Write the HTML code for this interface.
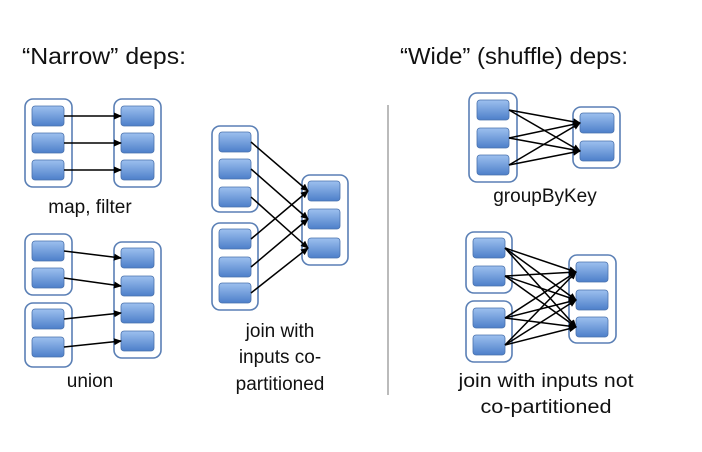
<!DOCTYPE html>
<html><head><meta charset="utf-8"><style>
html,body{margin:0;padding:0;background:#fff;}
svg{display:block;}
text{font-family:"Liberation Sans",sans-serif;fill:#111;}
</style></head><body>
<svg width="702" height="452" viewBox="0 0 702 452" xmlns="http://www.w3.org/2000/svg">
<defs>
<linearGradient id="g" x1="0" y1="0" x2="0" y2="1">
<stop offset="0" stop-color="#9dc0ef"/><stop offset="1" stop-color="#4d7fc9"/>
</linearGradient>
<marker id="a" markerWidth="8" markerHeight="8" refX="7" refY="4" orient="auto" markerUnits="userSpaceOnUse">
<path d="M0,0.5 L8,4 L0,7.5 z" fill="#000"/>
</marker>
<style>
.c{fill:#fff;stroke:#5a7fb5;stroke-width:1.6}
.p{fill:url(#g);stroke:#4a72ad;stroke-width:0.8}
.l{stroke:#000;stroke-width:1.5;marker-end:url(#a)}
</style>
</defs>

<text x="22" y="64" font-size="23" textLength="164" lengthAdjust="spacingAndGlyphs">“Narrow” deps:</text>
<text x="400" y="64" font-size="23" textLength="228" lengthAdjust="spacingAndGlyphs">“Wide” (shuffle) deps:</text>
<line x1="388" y1="105" x2="388" y2="395" stroke="#bbb" stroke-width="2"/>

<!-- map filter -->
<rect class="c" x="25" y="99" width="47" height="88" rx="8"/>
<rect class="c" x="114" y="99" width="47" height="88" rx="8"/>
<rect class="p" x="32" y="106" width="32" height="20" rx="3"/>
<rect class="p" x="32" y="133" width="32" height="20" rx="3"/>
<rect class="p" x="32" y="160" width="32" height="20" rx="3"/>
<rect class="p" x="121" y="106" width="33" height="20" rx="3"/>
<rect class="p" x="121" y="133" width="33" height="20" rx="3"/>
<rect class="p" x="121" y="160" width="33" height="20" rx="3"/>
<line class="l" x1="64" y1="116" x2="121" y2="116"/>
<line class="l" x1="64" y1="143" x2="121" y2="143"/>
<line class="l" x1="64" y1="170" x2="121" y2="170"/>
<text x="90" y="213" font-size="19" text-anchor="middle">map, filter</text>

<!-- union -->
<rect class="c" x="25" y="234" width="47" height="61" rx="8"/>
<rect class="c" x="25" y="303" width="47" height="64" rx="8"/>
<rect class="c" x="114" y="242" width="47" height="116" rx="8"/>
<rect class="p" x="32" y="241" width="32" height="20" rx="3"/>
<rect class="p" x="32" y="268" width="32" height="20" rx="3"/>
<rect class="p" x="32" y="309" width="32" height="20" rx="3"/>
<rect class="p" x="32" y="337" width="32" height="20" rx="3"/>
<rect class="p" x="121" y="248" width="33" height="20" rx="3"/>
<rect class="p" x="121" y="276" width="33" height="20" rx="3"/>
<rect class="p" x="121" y="303" width="33" height="20" rx="3"/>
<rect class="p" x="121" y="331" width="33" height="20" rx="3"/>
<line class="l" x1="64" y1="251" x2="121" y2="258"/>
<line class="l" x1="64" y1="278" x2="121" y2="286"/>
<line class="l" x1="64" y1="319" x2="121" y2="313"/>
<line class="l" x1="64" y1="347" x2="121" y2="341"/>
<text x="90" y="387" font-size="19" text-anchor="middle">union</text>

<!-- join co-partitioned -->
<rect class="c" x="212" y="126" width="46" height="86" rx="8"/>
<rect class="c" x="212" y="223" width="46" height="87" rx="8"/>
<rect class="c" x="302" y="175" width="46" height="90" rx="8"/>
<rect class="p" x="219" y="132" width="32" height="20" rx="3"/>
<rect class="p" x="219" y="159" width="32" height="20" rx="3"/>
<rect class="p" x="219" y="187" width="32" height="20" rx="3"/>
<rect class="p" x="219" y="229" width="32" height="20" rx="3"/>
<rect class="p" x="219" y="257" width="32" height="20" rx="3"/>
<rect class="p" x="219" y="283" width="32" height="20" rx="3"/>
<rect class="p" x="308" y="181" width="32" height="20" rx="3"/>
<rect class="p" x="308" y="209" width="32" height="20" rx="3"/>
<rect class="p" x="308" y="238" width="32" height="20" rx="3"/>
<line class="l" x1="251" y1="142" x2="308" y2="191"/>
<line class="l" x1="251" y1="169" x2="308" y2="219"/>
<line class="l" x1="251" y1="197" x2="308" y2="248"/>
<line class="l" x1="251" y1="239" x2="308" y2="191"/>
<line class="l" x1="251" y1="267" x2="308" y2="219"/>
<line class="l" x1="251" y1="293" x2="308" y2="248"/>
<text x="280" y="337" font-size="19" text-anchor="middle">join with</text>
<text x="280" y="363" font-size="19" text-anchor="middle">inputs co-</text>
<text x="280" y="390" font-size="19" text-anchor="middle">partitioned</text>

<!-- groupByKey -->
<rect class="c" x="469" y="93" width="48" height="89" rx="8"/>
<rect class="c" x="573" y="107" width="47" height="61" rx="8"/>
<rect class="p" x="477" y="100" width="32" height="20" rx="3"/>
<rect class="p" x="477" y="128" width="32" height="20" rx="3"/>
<rect class="p" x="477" y="155" width="32" height="20" rx="3"/>
<rect class="p" x="580" y="113" width="34" height="20" rx="3"/>
<rect class="p" x="580" y="141" width="34" height="20" rx="3"/>
<line class="l" x1="509" y1="110" x2="580" y2="123"/><line class="l" x1="509" y1="110" x2="580" y2="151"/>
<line class="l" x1="509" y1="138" x2="580" y2="123"/><line class="l" x1="509" y1="138" x2="580" y2="151"/>
<line class="l" x1="509" y1="165" x2="580" y2="123"/><line class="l" x1="509" y1="165" x2="580" y2="151"/>
<text x="545" y="202" font-size="19" text-anchor="middle">groupByKey</text>

<!-- join not co-partitioned -->
<rect class="c" x="466" y="232" width="46" height="61" rx="8"/>
<rect class="c" x="466" y="301" width="46" height="61" rx="8"/>
<rect class="c" x="569" y="255" width="47" height="88" rx="8"/>
<rect class="p" x="473" y="238" width="32" height="20" rx="3"/>
<rect class="p" x="473" y="266" width="32" height="20" rx="3"/>
<rect class="p" x="473" y="308" width="32" height="20" rx="3"/>
<rect class="p" x="473" y="335" width="32" height="20" rx="3"/>
<rect class="p" x="576" y="262" width="32" height="20" rx="3"/>
<rect class="p" x="576" y="290" width="32" height="20" rx="3"/>
<rect class="p" x="576" y="317" width="32" height="20" rx="3"/>
<line class="l" x1="505" y1="248" x2="576" y2="272"/><line class="l" x1="505" y1="248" x2="576" y2="300"/><line class="l" x1="505" y1="248" x2="576" y2="327"/>
<line class="l" x1="505" y1="276" x2="576" y2="272"/><line class="l" x1="505" y1="276" x2="576" y2="300"/><line class="l" x1="505" y1="276" x2="576" y2="327"/>
<line class="l" x1="505" y1="318" x2="576" y2="272"/><line class="l" x1="505" y1="318" x2="576" y2="300"/><line class="l" x1="505" y1="318" x2="576" y2="327"/>
<line class="l" x1="505" y1="345" x2="576" y2="272"/><line class="l" x1="505" y1="345" x2="576" y2="300"/><line class="l" x1="505" y1="345" x2="576" y2="327"/>
<text x="546" y="387" font-size="19" text-anchor="middle" textLength="175" lengthAdjust="spacingAndGlyphs">join with inputs not</text>
<text x="546" y="413" font-size="19" text-anchor="middle" textLength="131" lengthAdjust="spacingAndGlyphs">co-partitioned</text>
</svg>
</body></html>
